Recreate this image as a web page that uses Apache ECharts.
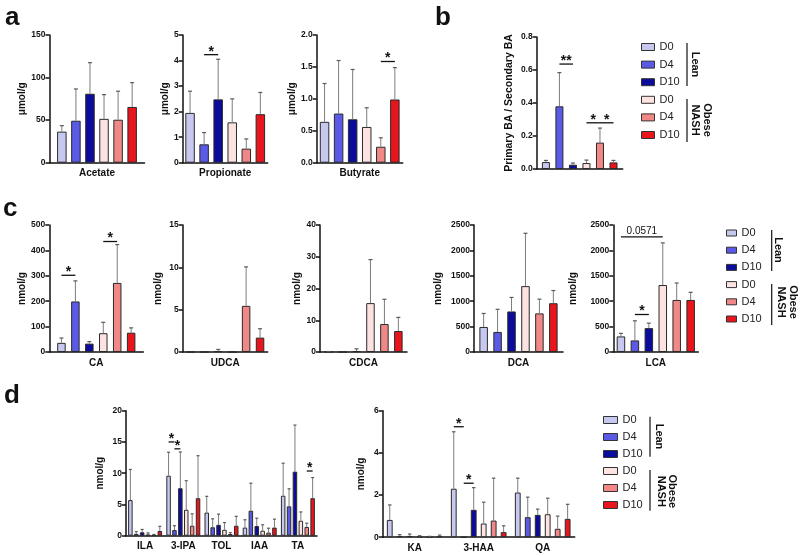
<!DOCTYPE html>
<html><head><meta charset="utf-8">
<script src="https://cdn.jsdelivr.net/npm/echarts@6/dist/echarts.min.js"></script>
<style>html,body{margin:0;padding:0;background:#fff}#c{width:800px;height:556px}</style>
</head><body><div id="c"></div>
<script>
const FONT = '"Liberation Sans", Arial, sans-serif';
const groupNames = ['Lean D0','Lean D4','Lean D10','Obese NASH D0','Obese NASH D4','Obese NASH D10'];
const groupColors = ['#c6c8f0','#5a5ae6','#0c0c9c','#fde2e2','#f08888','#e8151c'];

// ---- panel a: SCFA (µmol/g)
const acetateMean = [36.5, 49.3, 81, 51.5, 50.5, 65.5];
const acetateSD   = [7, 37.3, 36.5, 28.5, 33.5, 28.5];
const acetateTicks = ['0','50','100','150'];
const propionateMean = [1.95, 0.72, 2.48, 1.58, 0.55, 1.9];
const propionateSD   = [0.85, 0.46, 1.57, 0.92, 0.38, 0.85];
const propionateTicks = ['0','1','2','3','4','5'];
const propionateSig = [[0, 1, 2, 4.23, '*']];
const butyrateMean = [0.64, 0.77, 0.68, 0.56, 0.25, 0.99];
const butyrateSD   = [0.6, 0.83, 0.78, 0.3, 0.14, 0.5];
const butyrateTicks = ['0.0','0.5','1.0','1.5','2.0'];
const butyrateSig = [[0, 4, 5, 1.585, '*']];

// ---- panel b: primary / secondary BA ratio
const ratioMean = [0.042, 0.38, 0.026, 0.036, 0.16, 0.04];
const ratioSD   = [0.01, 0.204, 0.01, 0.018, 0.088, 0.012];
const ratioTicks = ['0.0','0.2','0.4','0.6','0.8'];
const ratioSig = [[0, 1, 2, 0.636, '**'], [0, 3, 4, 0.28, '*'], [0, 4, 5, 0.28, '*']];

// ---- panel c: bile acids (nmol/g)
const caMean = [36, 199, 33, 74, 272, 76];
const caSD   = [19, 81, 8, 43, 151, 19];
const caTicks = ['0','100','200','300','400','500'];
const caSig = [[0, 0, 1, 302, '*'], [0, 3, 4, 435, '*']];
const udcaMean = [0, 0, 0.1, 0, 5.45, 1.7];
const udcaSD   = [0, 0, 0.2, 0, 4.6, 1.05];
const udcaTicks = ['0','5','10','15'];
const cdcaMean = [0.1, 0, 0.3, 15.4, 8.8, 6.6];
const cdcaSD   = [0.05, 0, 0.7, 13.7, 7.8, 4.3];
const cdcaTicks = ['0','10','20','30','40'];
const dcaMean = [493, 395, 798, 1297, 760, 960];
const dcaSD   = [266, 445, 276, 1040, 280, 250];
const dcaTicks = ['0','500','1000','1500','2000','2500'];
const lcaMean = [307, 228, 470, 1318, 1025, 1025];
const lcaSD   = [59, 386, 98, 830, 333, 150];
const lcaTicks = ['0','500','1000','1500','2000','2500'];
const lcaSig = [[0, 0, 3, 2265, '0.0571'], [0, 1, 2, 738, '*']];

// ---- panel d: tryptophan metabolites (nmol/g)
const indoleCats = ['ILA','3-IPA','TOL','IAA','TA'];
const indoleMean = [
  [5.7, 9.6, 3.7, 1.3, 6.4],
  [0.3, 0.9, 1.35, 4.0, 4.7],
  [0.55, 7.6, 1.75, 1.55, 10.25],
  [0.2, 4.15, 0.95, 0.8, 2.4],
  [0.1, 1.6, 0.27, 0.5, 1.4],
  [0.75, 6.0, 1.6, 1.3, 6.0]
];
const indoleSD = [
  [4.9, 3.75, 2.6, 1.25, 5.2],
  [0.35, 0.7, 1.35, 4.4, 2.8],
  [0.45, 5.8, 1.7, 1.25, 7.45],
  [0.25, 4.65, 1.15, 0.95, 1.4],
  [0.1, 1.9, 0.23, 0.7, 0.6],
  [0.75, 6.8, 1.5, 1.35, 3.3]
];
const indoleTicks = ['0','5','10','15','20'];
const indoleSig = [[1, 0, 1, 15.0, '*'], [1, 1, 2, 13.9, '*'], [4, 4, 5, 10.35, '*']];
const kynCats = ['KA','3-HAA','QA'];
const kynMean = [
  [0.82, 2.3, 2.12],
  [0.06, 0, 0.95],
  [0.06, 1.3, 1.06],
  [0.04, 0.65, 1.09],
  [0.02, 0.79, 0.4],
  [0.05, 0.24, 0.87]
];
const kynSD = [
  [0.71, 2.7, 0.68],
  [0.06, 0, 0.95],
  [0.09, 1.05, 0.27],
  [0.03, 1.01, 0.76],
  [0.02, 2.01, 0.6],
  [0.05, 0.3, 0.69]
];
const kynTicks = ['0','2','4','6'];
const kynSig = [[1, 0, 1, 5.24, '*'], [1, 1, 2, 2.56, '*']];

const one = a => a.map(v => [v]);

const panels = [
  {left:49.5, top:35, width:95, height:127.7, cats:['Acetate'], means:one(acetateMean), sds:one(acetateSD), ticks:acetateTicks, yName:'μmol/g', nameGap:20, bw:9.5, gap:0.48, cap:4, sig:[]},
  {left:182.7, top:35, width:85, height:127.7, cats:['Propionate'], means:one(propionateMean), sds:one(propionateSD), ticks:propionateTicks, yName:'μmol/g', nameGap:12, bw:9.5, gap:0.48, cap:4, sig:propionateSig},
  {left:316.7, top:35, width:86, height:127.7, cats:['Butyrate'], means:one(butyrateMean), sds:one(butyrateSD), ticks:butyrateTicks, yName:'μmol/g', nameGap:16, bw:9.5, gap:0.48, cap:4, sig:butyrateSig},
  {left:536.7, top:37, width:86, height:132, cats:[''], means:one(ratioMean), sds:one(ratioSD), ticks:ratioTicks, yName:'Primary BA / Secondary BA', nameGap:22, nameSize:10.5, bw:8, gap:0.69, cap:4, sig:ratioSig},
  {left:49.3, top:225, width:94, height:127, cats:['CA'], means:one(caMean), sds:one(caSD), ticks:caTicks, yName:'nmol/g', nameGap:20, bw:8.5, gap:0.64, cap:4, sig:caSig},
  {left:182.7, top:225, width:85, height:127, cats:['UDCA'], means:one(udcaMean), sds:one(udcaSD), ticks:udcaTicks, yName:'nmol/g', nameGap:19, bw:8.5, gap:0.64, cap:4, sig:[]},
  {left:320, top:225, width:87, height:127, cats:['CDCA'], means:one(cdcaMean), sds:one(cdcaSD), ticks:cdcaTicks, yName:'nmol/g', nameGap:17, bw:8.5, gap:0.64, cap:4, sig:[]},
  {left:474, top:225, width:89, height:127, cats:['DCA'], means:one(dcaMean), sds:one(dcaSD), ticks:dcaTicks, yName:'nmol/g', nameGap:31, bw:8.5, gap:0.64, cap:4, sig:[]},
  {left:613.3, top:225, width:85, height:127, cats:['LCA'], means:one(lcaMean), sds:one(lcaSD), ticks:lcaTicks, yName:'nmol/g', nameGap:35, bw:8.5, gap:0.64, cap:4, sig:lcaSig},
  {left:126, top:410.7, width:191, height:125, cats:indoleCats, means:indoleMean, sds:indoleSD, ticks:indoleTicks, yName:'nmol/g', nameGap:21, bw:4.5, gap:0.31, cap:3, sig:indoleSig},
  {left:382.7, top:410.7, width:192, height:126.5, cats:kynCats, means:kynMean, sds:kynSD, ticks:kynTicks, yName:'nmol/g', nameGap:16, bw:5.8, gap:0.72, cap:3.5, sig:kynSig}
];

function errRender(g, spacing, cap) {
  return function (params, api) {
    const cat = api.value(0), m = api.value(1), s = api.value(2);
    if (!s) return null;
    const b = api.coord([cat, m]);
    const t = api.coord([cat, m + s]);
    const x = b[0] + (g - 2.5) * spacing;
    return {type:'group', children:[
      {type:'line', shape:{x1:x, y1:b[1], x2:x, y2:t[1]}, style:{stroke:'#7c7c7c', lineWidth:1}},
      {type:'line', shape:{x1:x - cap/2, y1:t[1], x2:x + cap/2, y2:t[1]}, style:{stroke:'#5a5a5a', lineWidth:1.2}}
    ]};
  };
}
function sigRender(spacing, texts) {
  return function (params, api) {
    const cat = api.value(0), g1 = api.value(1), g2 = api.value(2), y = api.value(3);
    const p = api.coord([cat, y]);
    const x1 = p[0] + (g1 - 2.5) * spacing, x2 = p[0] + (g2 - 2.5) * spacing;
    const txt = texts[params.dataIndex];
    const star = txt.indexOf('*') >= 0;
    return {type:'group', children:[
      {type:'line', shape:{x1:x1, y1:p[1], x2:x2, y2:p[1]}, style:{stroke:'#111', lineWidth:1.3}},
      {type:'text', x:(x1 + x2)/2, y:p[1] + (star ? 4 : -1), style:{text:txt, align:'center', verticalAlign:'bottom', font:(star ? 'bold 14px ' : '10px ') + FONT, fill:'#111'}}
    ]};
  };
}

const grid = [], xAxis = [], yAxis = [], series = [];
const axisCol = '#111';
panels.forEach((p, pi) => {
  grid.push({left:p.left, top:p.top, width:p.width, height:p.height});
  xAxis.push({gridIndex:pi, type:'category', data:p.cats,
    axisLine:{lineStyle:{color:axisCol, width:1.5}},
    axisTick:{alignWithLabel:true, length:4, lineStyle:{color:axisCol, width:1.5}},
    axisLabel:{interval:0, fontSize:10, fontWeight:'bold', color:axisCol, margin:6, fontFamily:FONT}});
  const t = p.ticks.map(Number);
  const step = t[1] - t[0];
  yAxis.push({gridIndex:pi, type:'value', min:t[0], max:t[t.length-1], interval:step,
    name:p.yName, nameLocation:'middle', nameRotate:90, nameGap:p.nameGap,
    nameTextStyle:{fontSize:p.nameSize || 10, fontWeight:'bold', color:axisCol, fontFamily:FONT},
    axisLine:{show:true, lineStyle:{color:axisCol, width:1.5}},
    axisTick:{show:true, length:4, lineStyle:{color:axisCol, width:1.5}},
    splitLine:{show:false},
    axisLabel:{fontSize:8.5, fontWeight:'bold', color:axisCol, margin:4, fontFamily:FONT,
      formatter: v => p.ticks[Math.round((v - t[0]) / step)] || ''}});
  const spacing = p.bw * (1 + p.gap);
  for (let g = 0; g < 6; g++) {
    series.push({type:'bar', name:groupNames[g], xAxisIndex:pi, yAxisIndex:pi, data:p.means[g],
      barWidth:p.bw, barGap:Math.round(p.gap*100) + '%', silent:true, z:2,
      itemStyle:{color:groupColors[g], borderColor:'#2a2a2a', borderWidth:1}});
    series.push({type:'custom', xAxisIndex:pi, yAxisIndex:pi, z:3, silent:true,
      data:p.means[g].map((m, c) => [c, m, p.sds[g][c]]), encode:{x:0, y:1},
      renderItem: errRender(g, spacing, p.cap)});
  }
  if (p.sig.length) {
    series.push({type:'custom', xAxisIndex:pi, yAxisIndex:pi, z:4, silent:true,
      data:p.sig.map(s => [s[0], s[1], s[2], s[3]]), encode:{x:0, y:3},
      renderItem: sigRender(spacing, p.sig.map(s => s[4]))});
  }
});

function mkLegend(left, top, iw, ih, gapY) {
  return {data:groupNames, orient:'vertical', left:left, top:top, padding:0,
    itemWidth:iw, itemHeight:ih, itemGap:gapY, icon:'rect', selectedMode:false,
    formatter: n => n.split(' ').pop(),
    itemStyle:{borderColor:'#333', borderWidth:1},
    textStyle:{fontSize:11, color:'#222', fontFamily:FONT, lineHeight:12}};
}
const legend = [mkLegend(641, 41, 13, 7, 5.6), mkLegend(726, 227, 10, 6, 5.2), mkLegend(603, 414, 14, 7, 5)];

function letter(ch, x, y) {
  return {type:'text', x:x, y:y, style:{text:ch, font:'bold 26px ' + FONT, fill:'#111', align:'left', verticalAlign:'bottom'}};
}
function bracket(lx, l1, l2, o1, o2, leanX, leanY, obX, obY) {
  return [
    {type:'line', shape:{x1:lx, y1:l1, x2:lx, y2:l2}, style:{stroke:'#111', lineWidth:1.2}},
    {type:'line', shape:{x1:lx, y1:o1, x2:lx, y2:o2}, style:{stroke:'#111', lineWidth:1.2}},
    {type:'text', x:leanX, y:leanY, rotation:-Math.PI/2, style:{text:'Lean', font:'bold 11px ' + FONT, fill:'#111', align:'center', verticalAlign:'middle'}},
    {type:'text', x:obX, y:obY, rotation:-Math.PI/2, style:{text:'Obese\nNASH', font:'bold 11px ' + FONT, lineHeight:11.5, fill:'#111', align:'center', verticalAlign:'middle'}}
  ];
}
const graphic = [
  letter('a', 5, 31), letter('b', 435, 31), letter('c', 3, 222), letter('d', 4, 409),
  ...bracket(687, 43, 86, 99, 142, 695, 64.5, 701, 120),
  ...bracket(771.7, 230, 271, 284, 325, 778, 250, 787, 302),
  ...bracket(650, 416.7, 456.7, 470, 510.7, 659, 436.5, 666.3, 491.3)
];

const chart = echarts.init(document.getElementById('c'), null, {renderer:'canvas'});
chart.setOption({animation:false, backgroundColor:'#fff', textStyle:{fontFamily:FONT},
  grid, xAxis, yAxis, series, legend, graphic});
</script></body></html>
